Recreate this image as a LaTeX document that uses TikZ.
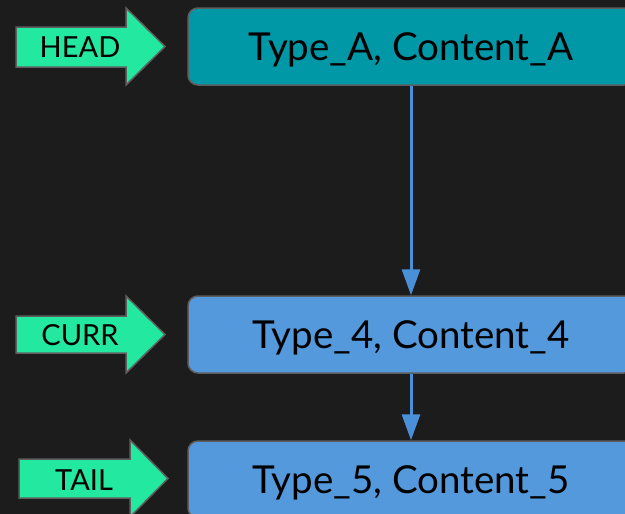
\documentclass[tikz,border=0pt]{standalone}
\usepackage{fontspec}
\setmainfont{Lato}
\usetikzlibrary{arrows.meta}
\definecolor{bgc}{HTML}{1C1C1C}
\definecolor{grn}{HTML}{22E8A0}
\definecolor{tealbox}{HTML}{0097A7}
\definecolor{bluebox}{HTML}{5499DB}
\definecolor{edgec}{HTML}{5E5E5E}
\definecolor{linkc}{HTML}{4A90D9}
\tikzset{
  box/.style={draw=edgec, line width=1.5pt, rounded corners=10pt, minimum width=446pt, minimum height=77pt,
    font=\fontsize{38.5}{44}\selectfont, text=black, inner sep=0pt, text height=27.5pt, text depth=0pt},
  lab/.style={fill=grn, draw=edgec, line width=1.5pt, line join=miter},
  labtext/.style={font=\fontsize{29}{34}\selectfont, text=black, inner sep=0pt, text height=20.7pt, text depth=0pt},
  link/.style={draw=linkc, line width=3pt, -{Triangle[length=26pt,width=18pt]}}
}
\begin{document}
\begin{tikzpicture}[x=1pt,y=-1pt]
\useasboundingbox (0,0) rectangle (625,514);
\clip (0,0) rectangle (625,514);
\fill[bgc] (0,0) rectangle (625,514);
\node[box, fill=tealbox] (a) at (411,46.5) {Type\_A, Content\_A};
\node[box, fill=bluebox] (b) at (411,334.5) {Type\_4, Content\_4};
\node[box, fill=bluebox] (c) at (411,479.5) {Type\_5, Content\_5};
\draw[link] (a) -- (b);
\draw[link] (b) -- (c);
\filldraw[lab] (16,27) -- (126,27) -- (126,8) -- (165,46.5) -- (126,85) -- (126,67) -- (16,67) -- cycle;
\node[labtext] (head) at (80,47) {HEAD};
\filldraw[lab] (16,316) -- (126,316) -- (126,296) -- (165,334.5) -- (126,373) -- (126,353) -- (16,353) -- cycle;
\node[labtext] (curr) at (80,335) {CURR};
\filldraw[lab] (19,459) -- (130,459) -- (130,440) -- (168,478.5) -- (130,517) -- (130,498) -- (19,498) -- cycle;
\node[labtext] (tail) at (84,480) {TAIL};
\end{tikzpicture}
\end{document}
